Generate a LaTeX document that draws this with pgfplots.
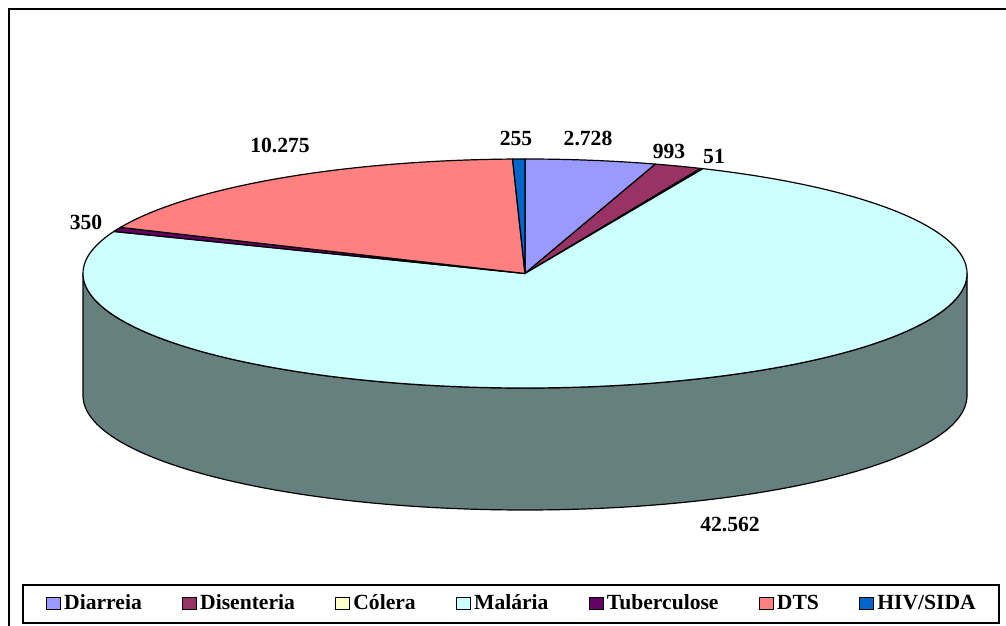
\documentclass[border=0pt]{standalone}
\usepackage{pgfplots}
\pgfplotsset{compat=1.18}
\usepgflibrary{fpu}
\usepackage{fontspec}
\setmainfont{Liberation Serif}
\definecolor{cDia}{HTML}{9999FF}
\definecolor{cDis}{HTML}{993366}
\definecolor{cCol}{HTML}{FFFFCC}
\definecolor{cMal}{HTML}{CCFFFF}
\definecolor{cTub}{HTML}{660066}
\definecolor{cDTS}{HTML}{FF8080}
\definecolor{cHIV}{HTML}{0066CC}
\definecolor{cSide}{HTML}{668080}
% data
\def\vDia{2728}
\def\vDis{993}
\def\vCol{51}
\def\vMal{42562}
\def\vTub{350}
\def\vDTS{10275}
\def\vHIV{255}
\def\RX{221pt}
\def\RY{57.25pt}
\newcommand\slice[3]{%
  \filldraw[fill=#3,draw=black,line width=0.6pt,line join=round]
    (axis cs:525,352.5) -- ++(#1:\RX\space and \RY)
    arc[start angle=#1,end angle=#2,x radius=\RX,y radius=\RY] -- cycle;}
\begin{document}
\begin{tikzpicture}
\pgfkeys{/pgf/fpu=true,/pgf/fpu/output format=fixed}
\pgfmathsetmacro\tot{\vDia+\vDis+\vCol+\vMal+\vTub+\vDTS+\vHIV}
\pgfmathsetmacro\aA{90}
\pgfmathsetmacro\aB{\aA-360*\vDia/\tot}
\pgfmathsetmacro\aC{\aB-360*\vDis/\tot}
\pgfmathsetmacro\aD{\aC-360*\vCol/\tot}
\pgfmathsetmacro\aE{\aD-360*\vMal/\tot}
\pgfmathsetmacro\aF{\aE-360*\vTub/\tot}
\pgfmathsetmacro\aG{\aF-360*\vDTS/\tot}
\pgfmathsetmacro\aH{-270}
\pgfkeys{/pgf/fpu=false}
\begin{axis}[width=503pt,height=313pt,scale only axis,
  xmin=0,xmax=1006,ymin=0,ymax=626,hide axis,clip=false,
  legend columns=7,
  legend image code/.code={\draw[#1,line width=0.5pt] (0pt,-3pt) rectangle (7pt,3pt);},
  legend style={at={(axis cs:511,22)},anchor=center,draw=black,line width=0.75pt,fill=white,
    inner xsep=11.5pt,inner ysep=4.5pt,
    font=\fontsize{10.8}{13}\selectfont\bfseries,
    nodes={inner sep=0pt,text height=7.6pt,text depth=2.4pt},
    /tikz/every odd column/.append style={column sep=1.5pt},
    /tikz/every even column/.append style={column sep=20.2pt}},
  legend cell align=left]
\coordinate (BL) at (axis cs:0,0);
\coordinate (TR) at (axis cs:1006,626);
\coordinate (F) at (axis cs:9,617);
% side of the Malária slice (front)
\filldraw[fill=cSide,draw=black,line width=0.6pt,line join=round]
  (axis cs:83,352.5) -- ++(0,-61pt)
  arc[start angle=180,end angle=360,x radius=\RX,y radius=\RY]
  -- ++(0,61pt)
  arc[start angle=0,end angle=-180,x radius=\RX,y radius=\RY] -- cycle;
% top face slices
\slice{\aA}{\aB}{cDia}
\slice{\aB}{\aC}{cDis}
\slice{\aC}{\aD}{cCol}
\slice{\aD}{\aE}{cMal}
\slice{\aE}{\aF}{cTub}
\slice{\aF}{\aG}{cDTS}
\slice{\aG}{\aH}{cHIV}
% data labels
\begin{scope}[every node/.style={font=\fontsize{10.8}{13}\selectfont\bfseries,inner sep=0pt}]
\node at (axis cs:280,481) {10.275};
\node at (axis cs:516,488) {255};
\node at (axis cs:588,488) {2.728};
\node at (axis cs:669,475) {993};
\node at (axis cs:714,470) {51};
\node at (axis cs:86,404) {350};
\node at (axis cs:730,101) {42.562};
\end{scope}
\addlegendimage{fill=cDia,draw=black}\addlegendentry{Diarreia}
\addlegendimage{fill=cDis,draw=black}\addlegendentry{Disenteria}
\addlegendimage{fill=cCol,draw=black}\addlegendentry{Cólera}
\addlegendimage{fill=cMal,draw=black}\addlegendentry{Malária}
\addlegendimage{fill=cTub,draw=black}\addlegendentry{Tuberculose}
\addlegendimage{fill=cDTS,draw=black}\addlegendentry{DTS}
\addlegendimage{fill=cHIV,draw=black}\addlegendentry{HIV/SIDA}
\end{axis}
\draw[line width=1pt] (F) rectangle ++(600pt,-400pt);
\pgfresetboundingbox
\path (BL) rectangle (TR);
\end{tikzpicture}
\end{document}
